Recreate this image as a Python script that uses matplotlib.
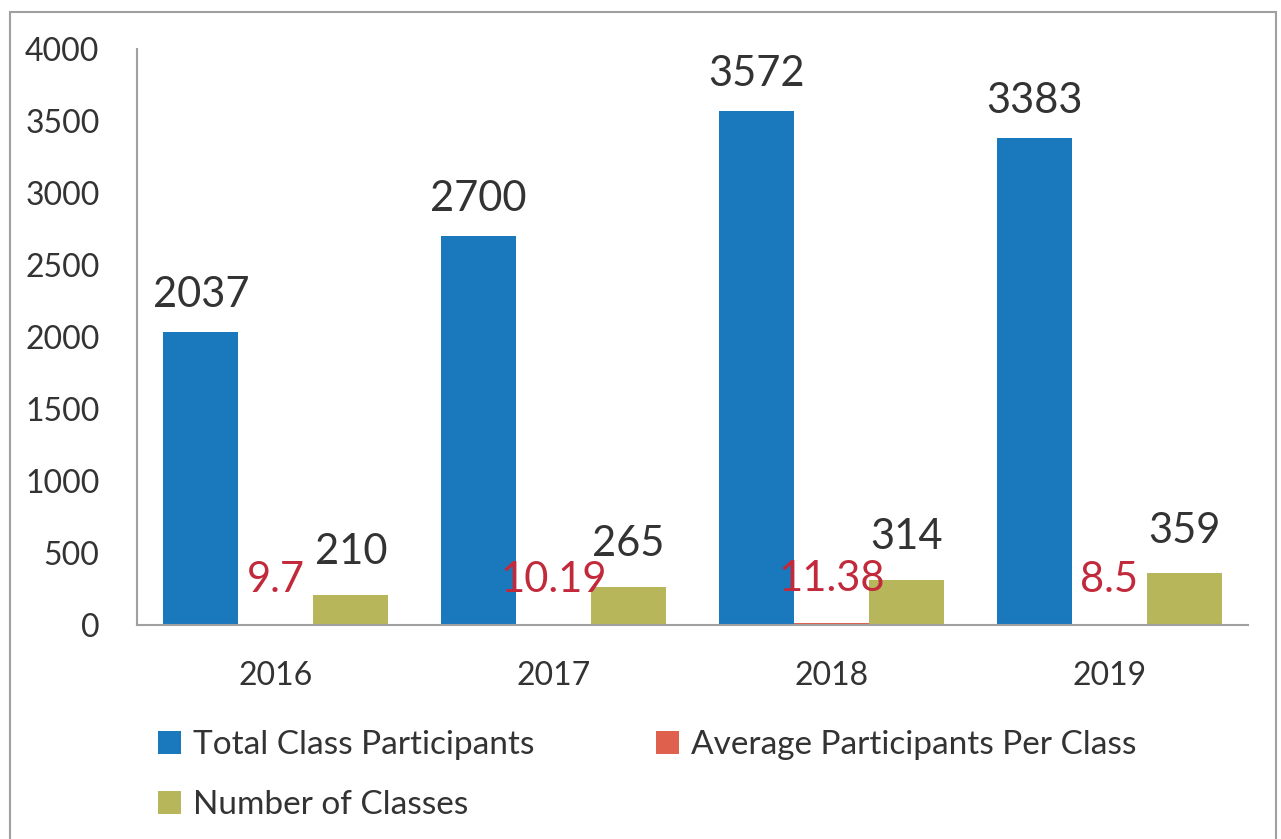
import matplotlib
matplotlib.use("Agg")
import matplotlib.pyplot as plt
from matplotlib.patches import Rectangle
import numpy as np

years = ["2016", "2017", "2018", "2019"]
total_participants = [2037, 2700, 3572, 3383]
avg_per_class = [9.7, 10.19, 11.38, 8.5]
num_classes = [210, 265, 314, 359]
avg_labels = ["9.7", "10.19", "11.38", "8.5"]
series_names = ["Total Class Participants", "Average Participants Per Class", "Number of Classes"]
yticks = [0, 500, 1000, 1500, 2000, 2500, 3000, 3500, 4000]

plt.rcParams['font.family'] = ['Lato', 'DejaVu Sans']

fig = plt.figure(figsize=(12.81, 8.39), dpi=100)
fig.patch.set_facecolor("white")
# outer border
fig.add_artist(Rectangle((10/1281, -0.01), (1276-10)/1281, (839-12)/839 + 0.01,
                         transform=fig.transFigure, fill=False, edgecolor="#a0a0a0", lw=1.5))

ax = fig.add_axes([137/1281, (839-625)/839, (1248-137)/1281, (625-49)/839])
x = np.arange(len(years))
w = 0.27
blue = "#1a78bd"
red = "#e0604e"
olive = "#b7b65a"
b1 = ax.bar(x - w, total_participants, w, color=blue, label=series_names[0])
b2 = ax.bar(x, avg_per_class, w, color=red, label=series_names[1])
b3 = ax.bar(x + w, num_classes, w, color=olive, label=series_names[2])

ax.bar_label(b1, padding=13, fontsize=30, color="#333333")
ax.bar_label(b3, padding=17, fontsize=30, color="#333333")
ax.bar_label(b2, labels=avg_labels, padding=18, fontsize=30, color="#c22a3c")

ax.set_xlim(-0.5, 3.5)
ax.set_ylim(0, 4000)
ax.set_yticks(yticks)
ax.set_xticks(x)
ax.set_xticklabels(years)
ax.tick_params(axis="both", labelsize=23, colors="#333333", length=0)
ax.tick_params(axis="y", pad=27)
ax.tick_params(axis="x", pad=26)
for s in ["top", "right"]:
    ax.spines[s].set_visible(False)
for s in ["left", "bottom"]:
    ax.spines[s].set_color("#a0a0a0")
    ax.spines[s].set_linewidth(1.5)

# column-major fill: col1 = Total, Number; col2 = Average
handles = [b1, b3, b2]
labels = [series_names[0], series_names[2], series_names[1]]
leg = fig.legend(handles, labels, ncol=2, loc="upper left",
                 bbox_to_anchor=(128/1281, 1 - 700/839), frameon=False,
                 fontsize=24, handlelength=0.7, handleheight=0.7, handletextpad=0.35,
                 columnspacing=3.65, labelspacing=0.9, labelcolor="#333333")

fig.savefig("out.png", dpi=100)
